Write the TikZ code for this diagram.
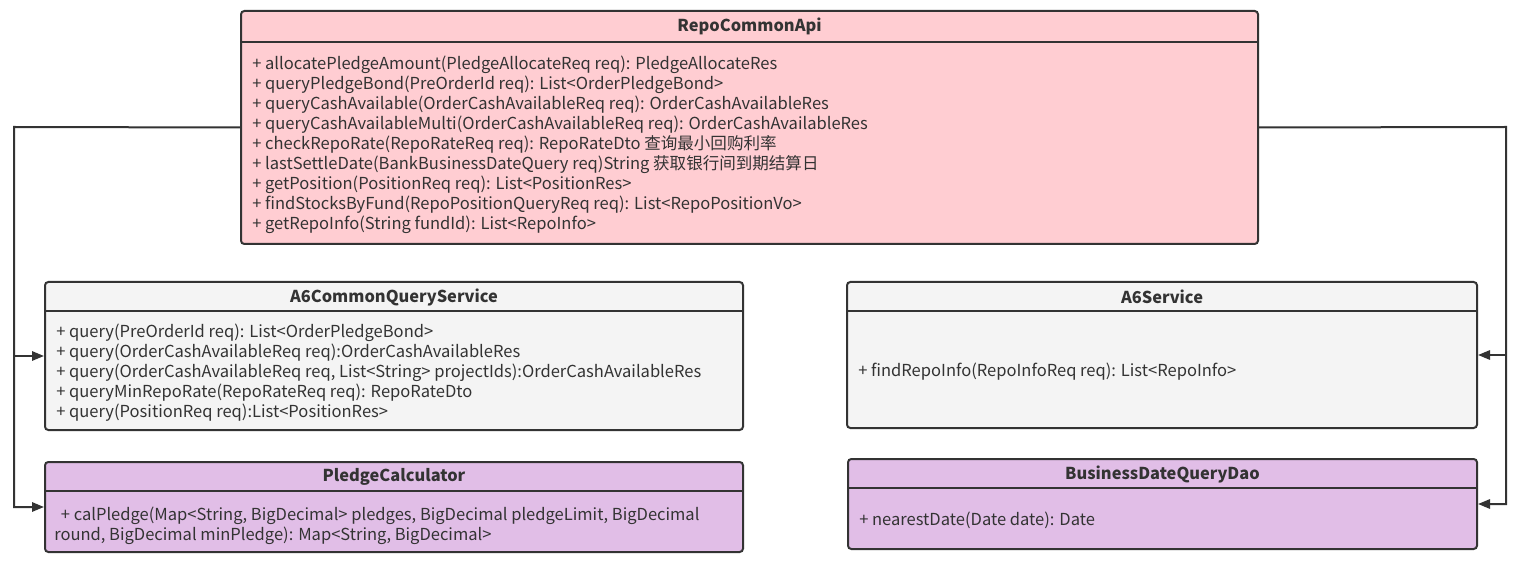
\documentclass[tikz,border=0pt]{standalone}
\usepackage{fontspec}
\setmainfont{Noto Sans CJK SC}
\usetikzlibrary{positioning, arrows.meta}

\definecolor{apifill}{HTML}{FFCDD2}
\definecolor{svcfill}{HTML}{F4F4F4}
\definecolor{daofill}{HTML}{E1BEE7}
\definecolor{edgegray}{HTML}{333333}

\begin{document}
\begin{tikzpicture}[x=0.75pt,y=-0.75pt,
    classbox/.style={draw=edgegray,line width=1.5pt,rounded corners=2.5pt,inner sep=0pt,anchor=north west},
    classname/.style={font=\bfseries\fontsize{12.3}{15}\selectfont,text=edgegray,inner sep=0pt},
    members/.style={font=\fontsize{12.4}{15}\selectfont,text=edgegray,align=left,inner sep=0pt,anchor=base west},
    sepline/.style={draw=edgegray,line width=1.5pt},
    link/.style={draw=edgegray,line width=1.5pt,-{Triangle[length=9pt,width=7pt]}}]
  \useasboundingbox (0,0) rectangle (1516,566);

  % class boxes
  \node[classbox,fill=apifill,minimum width=762.75pt,minimum height=174.75pt] (api) at (240,10) {};
  \node[classbox,fill=svcfill,minimum width=523.5pt,minimum height=111pt] (a6c) at (44,281) {};
  \node[classbox,fill=svcfill,minimum width=472.5pt,minimum height=109.5pt] (a6s) at (846,281) {};
  \node[classbox,fill=daofill,minimum width=523.5pt,minimum height=67.5pt] (pledge) at (44,461) {};
  \node[classbox,fill=daofill,minimum width=471.75pt,minimum height=67.5pt] (dao) at (847,458) {};

  % headers
  \foreach \cls/\hd in {api/24pt,a6c/22.5pt,a6s/22.5pt,pledge/22.5pt,dao/22.5pt}
    \draw[sepline] ([yshift=-\hd]\cls.north west) -- ([yshift=-\hd]\cls.north east);
  \node[classname] (apiname) at ([yshift=-12pt]api.north) {RepoCommonApi};
  \node[classname] (a6cname) at ([yshift=-12pt]a6c.north) {A6CommonQueryService};
  \node[classname] (a6sname) at ([yshift=-12pt]a6s.north) {A6Service};
  \node[classname] (pledgename) at ([yshift=-12pt]pledge.north) {PledgeCalculator};
  \node[classname] (daoname) at ([yshift=-12pt]dao.north) {BusinessDateQueryDao};

  % operations (base = last line)
  \node[members] (apiops) at (252,230) {%
    + allocatePledgeAmount(PledgeAllocateReq req): PledgeAllocateRes\\
    + queryPledgeBond(PreOrderId req): List<OrderPledgeBond>\\
    + queryCashAvailable(OrderCashAvailableReq req): OrderCashAvailableRes\\
    + queryCashAvailableMulti(OrderCashAvailableReq req): OrderCashAvailableRes\\
    + checkRepoRate(RepoRateReq req): RepoRateDto 查询最小回购利率\\
    + lastSettleDate(BankBusinessDateQuery req)String 获取银行间到期结算日\\
    + getPosition(PositionReq req): List<PositionRes>\\
    + findStocksByFund(RepoPositionQueryReq req): List<RepoPositionVo>\\
    + getRepoInfo(String fundId): List<RepoInfo>};
  \node[members] (a6cops) at (56,417.5) {%
    + query(PreOrderId req): List<OrderPledgeBond>\\
    + query(OrderCashAvailableReq req):OrderCashAvailableRes\\
    + query(OrderCashAvailableReq req, List<String> projectIds):OrderCashAvailableRes\\
    + queryMinRepoRate(RepoRateReq req): RepoRateDto\\
    + query(PositionReq req):List<PositionRes>};
  \node[members] (a6sops) at (858,377) {+ findRepoInfo(RepoInfoReq req): List<RepoInfo>};
  \node[members] (pledgeops) at (54,540) {%
    \hspace{5pt}+ calPledge(Map<String, BigDecimal> pledges, BigDecimal pledgeLimit, BigDecimal\\
    round, BigDecimal minPledge): Map<String, BigDecimal>};
  \node[members] (daoops) at (859,525.5) {+ nearestDate(Date date): Date};

  % dependencies
  \coordinate (lrail) at (14,127);
  \coordinate (rrail) at (1506,127);
  \draw[link] (api.west) -- (lrail) |- (pledge.west);
  \draw[link] (lrail |- a6c.west) -- (a6c.west);
  \draw[link] (api.east) -- (rrail) |- (dao.east);
  \draw[link] (rrail |- a6s.east) -- (a6s.east);
\end{tikzpicture}
\end{document}
